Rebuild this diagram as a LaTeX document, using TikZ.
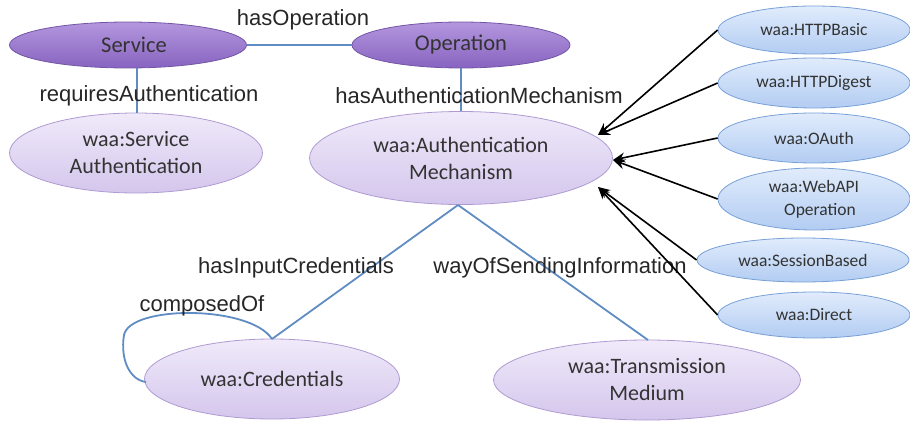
\documentclass[tikz,border=0pt]{standalone}
\usepackage{fontspec}
\setmainfont{Carlito}
\newfontfamily\lblfont{Liberation Sans}
\usetikzlibrary{shapes.geometric,arrows.meta}
\definecolor{edgeblue}{RGB}{95,140,195}
\definecolor{darkpA}{RGB}{180,150,222}
\definecolor{darkpB}{RGB}{135,100,192}
\definecolor{darkpD}{RGB}{115,85,165}
\definecolor{lightpA}{RGB}{240,234,250}
\definecolor{lightpB}{RGB}{212,198,236}
\definecolor{lightpD}{RGB}{175,155,210}
\definecolor{blueA}{RGB}{225,236,252}
\definecolor{blueB}{RGB}{178,204,242}
\definecolor{blueD}{RGB}{120,160,215}
\tikzset{
  darkell/.style={ellipse, draw=darkpD, line width=0.8pt, top color=darkpA, bottom color=darkpB, inner sep=0pt, font=\fontsize{22.5}{26}\selectfont, text=black!80},
  lightell/.style={ellipse, draw=lightpD, line width=0.8pt, top color=lightpA, bottom color=lightpB, inner sep=0pt, align=center, font=\fontsize{22}{27}\selectfont, text=black!80},
  blueell/.style={ellipse, draw=blueD, line width=0.8pt, top color=blueA, bottom color=blueB, inner sep=0pt, align=center, minimum width=192pt, font=\fontsize{17.5}{23}\selectfont, text=black!80},
  rel/.style={draw=edgeblue, line width=1.8pt},
  lbl/.style={font=\lblfont\fontsize{22}{26}\selectfont, text=black!85, inner sep=0pt},
  sub/.style={draw=black, line width=1.6pt, -{Stealth[length=12pt,width=10pt]}}
}
\begin{document}
\begin{tikzpicture}[x=1pt,y=-1pt]
\useasboundingbox (0,0) rectangle (910,423);
\node[darkell, minimum width=237pt, minimum height=46pt] (svc) at (128,45) {\hspace*{12pt}Service};
\node[darkell, minimum width=218pt, minimum height=46pt] (op) at (461,45) {Operation};
\node[lightell, minimum width=253pt, minimum height=80pt] (sa) at (136,153) {waa:Service\\Authentication};
\node[lightell, minimum width=303pt, minimum height=93pt] (am) at (461,158) {waa:Authentication\\Mechanism};
\node[lightell, minimum width=255pt, minimum height=80pt] (cr) at (272,379) {waa:Credentials};
\node[lightell, minimum width=307pt, minimum height=80pt] (tm) at (647,380) {waa:Transmission\\Medium};
\node[blueell, minimum height=48pt] (hb) at (814,30) {waa:HTTPBasic};
\node[blueell, minimum height=50pt] (hd) at (814,83) {waa:HTTPDigest};
\node[blueell, minimum height=50pt] (oa) at (814,138) {waa:OAuth};
\node[blueell, minimum height=62pt] (wo) at (814,199) {waa:WebAPI\\\hspace*{12pt}Operation};
\node[blueell, minimum width=212pt, minimum height=44pt] (sb) at (803,260) {waa:SessionBased};
\node[blueell, minimum height=46pt] (di) at (814,315) {waa:Direct};
% relations
\draw[rel] (svc.east) -- (op.west);
\draw[rel] (svc.south -| 137,0) -- (sa.north -| 137,0);
\draw[rel] (op.south) -- (am.north);
\coordinate (amb) at (458,205);
\coordinate (crt) at (272,339);
\coordinate (tmt) at (648,340);
\draw[rel] (amb) -- (crt);
\draw[rel] (amb) -- (tmt);
\coordinate (crl) at (146,382);
\draw[rel] (crt) .. controls (250,305) and (130,305) .. (124,335) .. controls (120,360) and (130,380) .. (crl);
% labels
\node[lbl] (l1) at (303,20) {hasOperation};
\node[lbl] (l2) at (149,96) {requiresAuthentication};
\node[lbl] (l3) at (479,96) {hasAuthenticationMechanism};
\node[lbl] (l4) at (296,268) {hasInputCredentials};
\node[lbl] (l5) at (560,268) {wayOfSendingInformation};
\node[lbl] (l6) at (202,306) {composedOf};
% subclass arrows
\coordinate (t1) at (598,135);
\coordinate (t2) at (613,160);
\coordinate (t3) at (598,187);
\draw[sub] (hb.west) -- (t1);
\draw[sub] (hd.west) -- (t1);
\draw[sub] (oa.west) -- (t2);
\draw[sub] (wo.west) -- (t2);
\draw[sub] (sb.west) -- (t3);
\draw[sub] (di.west) -- (t3);
\end{tikzpicture}
\end{document}
